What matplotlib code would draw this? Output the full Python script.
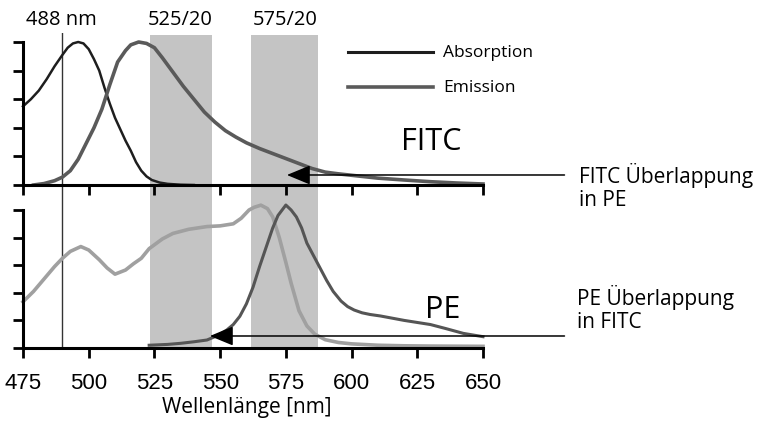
import matplotlib
matplotlib.use("Agg")
import matplotlib.pyplot as plt

# FITC (oberes Panel)
fitc_abs_nm = [475, 478, 481, 484, 487, 490, 492, 494, 496, 498, 500, 502, 504, 506, 508, 510,
               512, 514, 516, 517, 518, 520, 522, 524, 527, 530, 535, 540]
fitc_abs = [0.55, 0.60, 0.66, 0.74, 0.83, 0.91, 0.96, 0.99, 1.0, 0.99, 0.95, 0.88, 0.80, 0.68,
            0.57, 0.47, 0.39, 0.31, 0.24, 0.20, 0.16, 0.10, 0.06, 0.035, 0.017, 0.008, 0.002, 0.0]

fitc_em_nm = [479, 483, 487, 490, 493, 496, 499, 502, 505, 508, 511, 514, 516, 519, 522, 525,
              528, 532, 536, 540, 544, 548, 552, 556, 560, 565, 570, 575, 580, 585, 590, 595,
              600, 610, 620, 630, 640, 650]
fitc_em = [0.0, 0.01, 0.03, 0.055, 0.10, 0.18, 0.29, 0.40, 0.53, 0.70, 0.86, 0.94, 0.98, 1.0,
           0.99, 0.96, 0.89, 0.79, 0.69, 0.60, 0.51, 0.44, 0.38, 0.335, 0.295, 0.255, 0.22, 0.185,
           0.15, 0.115, 0.09, 0.078, 0.068, 0.048, 0.035, 0.023, 0.014, 0.007]

# PE (unteres Panel)
pe_abs_nm = [475, 479, 483, 487, 490, 493, 497, 500, 504, 507, 510, 514, 517, 520, 523, 528,
             532, 538, 545, 550, 555, 558, 561, 563, 565.5, 568, 570, 572.5, 575, 577, 580,
             583, 586, 590, 595, 600, 610, 620, 630, 640, 650]
pe_abs = [0.335, 0.41, 0.50, 0.59, 0.65, 0.70, 0.735, 0.71, 0.64, 0.58, 0.535, 0.565, 0.61,
          0.65, 0.72, 0.79, 0.83, 0.86, 0.88, 0.885, 0.90, 0.94, 1.0, 1.02, 1.035, 1.01, 0.95,
          0.80, 0.62, 0.47, 0.27, 0.16, 0.10, 0.06, 0.04, 0.03, 0.02, 0.016, 0.014, 0.013, 0.012]

pe_em_nm = [523, 530, 535, 540, 545, 549, 552.5, 555, 557.5, 560, 562.5, 565, 567.5, 570, 572,
            575, 577, 579, 581, 583, 585.5, 588, 590.5, 593, 596, 598.5, 601, 604, 607, 611,
            620, 630, 636, 642.5, 650]
pe_em = [0.02, 0.026, 0.034, 0.045, 0.058, 0.09, 0.13, 0.17, 0.23, 0.32, 0.44, 0.59, 0.73,
         0.87, 0.96, 1.036, 1.0, 0.95, 0.87, 0.76, 0.67, 0.58, 0.49, 0.41, 0.34, 0.30, 0.275,
         0.255, 0.243, 0.232, 0.20, 0.17, 0.14, 0.106, 0.082]

filter_bands = [(523.3, 546.9), (561.7, 587.2)]
filter_labels = ["525/20", "575/20"]
laser_nm = 490
xticks = [475, 500, 525, 550, 575, 600, 625, 650]

W, H = 760, 421
fig = plt.figure(figsize=(W / 100, H / 100), dpi=100)

def box(x0, y0, x1, y1):
    return [x0 / W, 1 - y1 / H, (x1 - x0) / W, (y1 - y0) / H]

myriad = ["Open Sans", "DejaVu Sans"]
arial = ["Liberation Sans", "DejaVu Sans"]

# Hintergrund: Filterbaender und Laserlinie ueber beide Panels
bg = fig.add_axes(box(23, 33, 483, 348), zorder=0)
bg.set_xlim(475, 650)
bg.set_ylim(0, 1)
bg.axis("off")
for lo, hi in filter_bands:
    bg.axvspan(lo, hi, ymin=0, ymax=(348 - 35) / (348 - 33), color="#c4c4c4", lw=0)
bg.axvline(laser_nm, color="#333333", lw=1.0)

ax1 = fig.add_axes(box(23, 42, 483, 185), zorder=1)
ax2 = fig.add_axes(box(23, 210, 483, 348), zorder=1)

for ax in (ax1, ax2):
    ax.patch.set_visible(False)
    ax.set_xlim(475, 650)
    ax.set_ylim(0, 1)
    ax.spines["top"].set_visible(False)
    ax.spines["right"].set_visible(False)
    ax.spines["left"].set_linewidth(2.2)
    ax.spines["bottom"].set_linewidth(2.2)
    ax.set_xticks(xticks)
    ax.set_yticks([0, 0.2, 0.4, 0.6, 0.8, 1.0])
    ax.set_yticklabels([])
    ax.tick_params(direction="out", length=7, width=2, color="black")

ax1.set_xticklabels([])
ax2.set_xticklabels([str(t) for t in xticks], fontsize=16, family=arial)
ax2.tick_params(axis="x", pad=11)

ax1.plot(fitc_abs_nm, fitc_abs, color="#1e1e1e", lw=1.8, clip_on=False, label="Absorption")
ax1.plot(fitc_em_nm, fitc_em, color="#5a5a5a", lw=2.6, clip_on=False, label="Emission")
ax2.plot(pe_abs_nm, pe_abs, color="#a0a0a0", lw=2.6, clip_on=False)
ax2.plot(pe_em_nm, pe_em, color="#555555", lw=2.2, clip_on=False)

# Pfeile (Ueberlappung)
arrow_kw = dict(arrowstyle="-|>,head_length=1.45,head_width=0.6", color="black", lw=1.1,
                shrinkA=0, shrinkB=0, mutation_scale=10)
ax1.annotate("", xy=(575.4, 0.07), xytext=(681, 0.07), arrowprops=arrow_kw,
             annotation_clip=False)
ax2.annotate("", xy=(546.1, 0.087), xytext=(681, 0.087), arrowprops=arrow_kw,
             annotation_clip=False)

# Legende von Hand
fig.add_artist(plt.Line2D([348 / W, 433 / W], [1 - 52 / H, 1 - 52 / H], color="#1e1e1e", lw=2.2))
fig.add_artist(plt.Line2D([348 / W, 433 / W], [1 - 87 / H, 1 - 87 / H], color="#5a5a5a", lw=2.6))
fig.text(443 / W, 1 - 53 / H, "Absorption", fontsize=12.5, family=myriad, va="center")
fig.text(443 / W, 1 - 88 / H, "Emission", fontsize=12.5, family=myriad, va="center")

fig.text(61 / W, 1 - 20 / H, "488 nm", fontsize=14.5, family=myriad, va="center", ha="center")
fig.text(180 / W, 1 - 20 / H, filter_labels[0], fontsize=14.5, family=myriad, va="center", ha="center")
fig.text(285 / W, 1 - 20 / H, filter_labels[1], fontsize=14.5, family=myriad, va="center", ha="center")

fig.text(401 / W, 1 - 142 / H, "FITC", fontsize=22, family=myriad, va="center")
fig.text(425 / W, 1 - 310 / H, "PE", fontsize=22, family=myriad, va="center")

fig.text(579 / W, 1 - 187 / H, "FITC Überlappung\nin PE", fontsize=15, family=myriad,
         va="center", linespacing=1.15)
fig.text(577 / W, 1 - 309 / H, "PE Überlappung\nin FITC", fontsize=15, family=myriad,
         va="center", linespacing=1.15)

fig.text(247 / W, 1 - 408 / H, "Wellenlänge [nm]", fontsize=15, family=myriad,
         va="center", ha="center")

fig.savefig("out.png", dpi=100)
